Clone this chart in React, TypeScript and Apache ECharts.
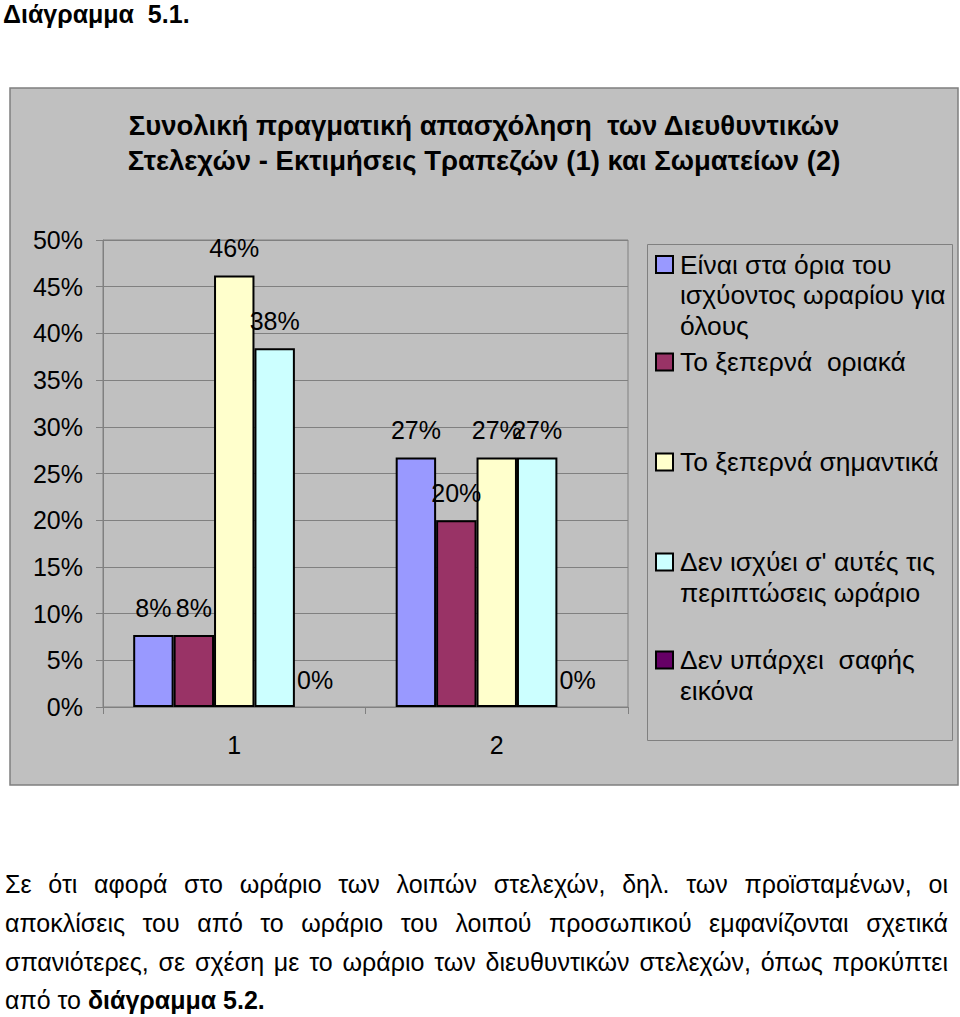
import { useEffect, useRef } from "react";
import * as echarts from "echarts";

const categories = ["1", "2"];
const seriesNames = [
  "Είναι στα όρια του ισχύοντος ωραρίου για όλους",
  "Το ξεπερνά  οριακά",
  "Το ξεπερνά σημαντικά",
  "Δεν ισχύει σ' αυτές τις περιπτώσεις ωράριο",
  "Δεν υπάρχει  σαφής εικόνα",
];
const legendLines = [
  ["Είναι στα όρια του", "ισχύοντος ωραρίου για", "όλους"],
  ["Το ξεπερνά  οριακά"],
  ["Το ξεπερνά σημαντικά"],
  ["Δεν ισχύει σ' αυτές τις", "περιπτώσεις ωράριο"],
  ["Δεν υπάρχει  σαφής", "εικόνα"],
];
const seriesColors = ["#9999ff", "#993366", "#ffffcc", "#ccffff", "#660066"];
const withinHours = [7.7, 26.7];
const slightlyOver = [7.7, 20.0];
const significantlyOver = [46.2, 26.7];
const notApplicable = [38.4, 26.7];
const noClearPicture = [0, 0];
const seriesValues = [withinHours, slightlyOver, significantlyOver, notApplicable, noClearPicture];

const titleLines = [
  "Συνολική πραγματική απασχόληση  των Διευθυντικών",
  "Στελεχών - Εκτιμήσεις Τραπεζών (1) και Σωματείων (2)",
];
const heading = "Διάγραμμα  5.1.";
const paragraphLines = [
  "Σε ότι αφορά στο ωράριο των λοιπών στελεχών, δηλ. των προϊσταμένων, οι",
  "αποκλίσεις του από το ωράριο του λοιπού προσωπικού εμφανίζονται σχετικά",
  "σπανιότερες, σε σχέση με το ωράριο των διευθυντικών στελεχών, όπως προκύπτει",
];
const lastLineStart = "από το ";
const lastLineBold = "διάγραμμα 5.2.";

const FONT = "'Liberation Sans', Arial, Helvetica, sans-serif";

export default function App() {
  const ref = useRef<HTMLDivElement>(null);

  useEffect(() => {
    if (!ref.current) return;
    const chart = echarts.init(ref.current, undefined, { renderer: "svg" });
    const lh = 30.5;
    const legendCenters = [264.5, 362, 462, 562, 660];
    const legends = seriesNames.map((name, i) => {
      const n = legendLines[i].length;
      const pad = new Array(n - 1).fill("").map(() => " ");
      return {
        data: [name],
        orient: "vertical",
        left: 655,
        top: legendCenters[i] - ((2 * n - 1) * lh) / 2,
        padding: 0,
        itemWidth: 17,
        itemHeight: 17,
        icon: "rect",
        selectedMode: false,
        itemStyle: { borderColor: "#000", borderWidth: 2 },
        formatter: () => [...pad, ...legendLines[i]].join("\n"),
        textStyle: {
          fontFamily: FONT,
          fontSize: 26.4,
          color: "#000",
          lineHeight: lh,
          padding: [0, 0, 0, 2],
        },
      };
    });

    chart.setOption({
      animation: false,
      textStyle: { fontFamily: FONT },
      title: {
        text: titleLines.join("\n"),
        left: 484,
        textAlign: "center",
        top: 108,
        padding: 0,
        textStyle: {
          fontFamily: FONT,
          fontSize: 27.5,
          fontWeight: "bold",
          color: "#000",
          lineHeight: 35,
        },
      },
      graphic: [
        {
          type: "rect",
          z: -100,
          shape: { x: 10, y: 88, width: 948, height: 697 },
          style: { fill: "#c0c0c0", stroke: "#7f7f7f", lineWidth: 1.5 },
        },
        {
          type: "rect",
          z: 0,
          shape: { x: 647.5, y: 244.5, width: 305, height: 496 },
          style: { fill: "none", stroke: "#808080", lineWidth: 1 },
        },
      ],
      legend: legends,
      grid: {
        left: 103,
        top: 240,
        width: 525,
        height: 467,
        show: true,
        borderColor: "#808080",
        borderWidth: 1,
        backgroundColor: "transparent",
      },
      xAxis: {
        type: "category",
        data: categories,
        axisLine: { show: true, lineStyle: { color: "#808080", width: 1 } },
        axisTick: { show: true, length: 7, lineStyle: { color: "#808080" } },
        axisLabel: { fontSize: 25, color: "#000", margin: 25, fontFamily: FONT },
        splitLine: { show: false },
      },
      yAxis: {
        type: "value",
        min: 0,
        max: 50,
        interval: 5,
        axisLine: { show: true, lineStyle: { color: "#808080", width: 1 } },
        axisTick: { show: true, length: 7, lineStyle: { color: "#808080" } },
        axisLabel: {
          fontSize: 25,
          color: "#000",
          margin: 20,
          fontFamily: FONT,
          formatter: (v: number) => `${v}%`,
        },
        splitLine: { show: true, lineStyle: { color: "#808080", width: 1 } },
      },
      series: seriesNames.map((name, i) => ({
        name,
        type: "bar",
        data: seriesValues[i],
        barGap: "0%",
        barCategoryGap: "23%",
        itemStyle: {
          color: seriesColors[i],
          borderColor: "#000",
          borderWidth: i === 4 ? 0 : 2,
        },
        label: {
          show: true,
          position: "top",
          distance: 15,
          fontSize: 25,
          color: "#000",
          fontFamily: FONT,
          formatter: (p: any) => `${Math.round(p.value)}%`,
        },
      })),
    });
    return () => chart.dispose();
  }, []);

  const lineStyle: React.CSSProperties = {
    position: "absolute",
    left: 5,
    width: 943,
    textAlign: "justify",
    textAlignLast: "justify" as any,
    whiteSpace: "nowrap",
    fontFamily: FONT,
    fontSize: 25,
    lineHeight: "30px",
    color: "#000",
  };
  const paraTops = [869, 908, 947];

  return (
    <div style={{ position: "fixed", left: 0, top: 0, width: 960, height: 1017, background: "#fff", overflow: "hidden" }}>
      <div
        style={{
          position: "absolute",
          left: 3,
          top: 0,
          fontFamily: FONT,
          fontWeight: "bold",
          fontSize: 25,
          lineHeight: "normal",
          whiteSpace: "pre",
          color: "#000",
        }}
      >
        {heading}
      </div>
      <div ref={ref} style={{ position: "absolute", left: 0, top: 0, width: 960, height: 800 }} />
      {paragraphLines.map((t, i) => (
        <div key={i} style={{ ...lineStyle, top: paraTops[i], whiteSpace: "normal" }}>
          {t}
        </div>
      ))}
      <div style={{ ...lineStyle, top: 985, textAlign: "left", textAlignLast: "left" as any }}>
        {lastLineStart}
        <b>{lastLineBold}</b>
      </div>
    </div>
  );
}
